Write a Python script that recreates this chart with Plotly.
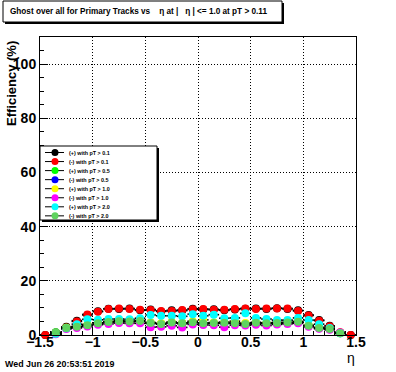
import plotly.graph_objects as go

# ---------------- data ----------------
eta_bins = [-1.45, -1.35, -1.25, -1.15, -1.05, -0.95, -0.85, -0.75, -0.65, -0.55,
            -0.45, -0.35, -0.25, -0.15, -0.05, 0.05, 0.15, 0.25, 0.35, 0.45,
            0.55, 0.65, 0.75, 0.85, 0.95, 1.05, 1.15, 1.25, 1.35, 1.45]
bin_half_width = 0.05

pos_pt01 = [0, 0.9, 3.0, 5.3, 7.4, 8.8, 9.7, 9.6, 9.8, 9.1, 9.4, 8.7, 9.1, 9.0, 9.7,
            9.4, 9.5, 9.1, 9.4, 9.7, 9.8, 9.6, 9.9, 9.6, 9.1, 7.4, 5.5, 3.4, 0.8, 0]
neg_pt01 = [0, 0.8, 2.8, 5.0, 7.6, 8.6, 9.6, 9.8, 9.6, 9.3, 9.2, 8.9, 8.9, 9.2, 9.5,
            9.6, 9.3, 9.3, 9.6, 9.8, 9.6, 9.8, 9.8, 9.8, 8.9, 7.2, 5.3, 3.2, 1.0, 0]
pos_pt05 = [None, 1.0, 2.7, 3.1, 3.5, 4.4, 4.9, 5.0, 5.1, 5.1, 4.5, 4.2, 4.5, 4.4, 4.6,
            4.4, 4.5, 4.4, 4.4, 4.2, 4.4, 4.4, 4.5, 4.5, 4.8, 3.5, 2.7, 2.3, 0.7, None]
neg_pt05 = [None, 0.8, 2.5, 3.0, 3.5, 4.2, 4.7, 4.9, 4.9, 5.0, 4.3, 4.0, 4.4, 4.2, 4.6,
            4.2, 4.3, 4.3, 4.2, 4.0, 4.3, 4.2, 4.3, 4.4, 4.7, 3.3, 2.5, 2.1, 0.6, None]
pos_pt10 = [None, 0.8, 2.7, 3.2, 3.9, 4.5, 5.0, 5.3, 5.1, 5.4, 4.6, 4.3, 4.8, 4.5, 5.1,
            5.6, 4.6, 4.8, 5.1, 4.4, 4.7, 4.5, 4.7, 5.3, 5.0, 3.6, 2.8, 2.3, 0.7, None]
neg_pt10 = [None, 0.3, 2.2, 2.6, 3.1, 3.8, 4.1, 4.4, 4.3, 4.3, 2.9, 3.0, 3.4, 2.8, 3.9,
            3.7, 3.6, 2.9, 3.6, 3.5, 3.8, 3.5, 3.9, 4.1, 4.3, 3.0, 2.3, 1.9, 0.9, None]
pos_pt20 = [None, 0.5, 2.5, 4.0, 5.8, 5.6, 5.9, 5.9, 5.8, 6.2, 7.4, 7.1, 7.1, 6.9, 7.7,
            7.1, 7.5, 6.2, 6.3, 8.0, 6.3, 5.9, 5.5, 5.5, 6.3, 5.5, 4.0, 2.6, 0.6, None]
neg_pt20 = [None, 0.9, 2.6, 3.0, 3.6, 4.3, 4.8, 5.1, 5.0, 5.2, 4.4, 4.1, 4.6, 4.3, 4.7,
            4.3, 4.4, 4.5, 4.3, 4.1, 4.5, 4.3, 4.4, 4.6, 4.9, 3.4, 2.6, 2.2, 0.6, None]

series_names = ["(+) with pT > 0.1", "(-) with pT > 0.1", "(+) with pT > 0.5",
                "(-) with pT > 0.5", "(+) with pT > 1.0", "(-) with pT > 1.0",
                "(+) with pT > 2.0", "(-) with pT > 2.0"]
series_values = [pos_pt01, neg_pt01, pos_pt05, neg_pt05,
                 pos_pt10, neg_pt10, pos_pt20, neg_pt20]
series_colors = ["#000000", "#ff0000", "#00ff00", "#0000ff",
                 "#ffff00", "#ff00ff", "#00ffff", "#5fd35f"]

x_ticks = [-1.5, -1, -0.5, 0, 0.5, 1, 1.5]
y_ticks = [0, 20, 40, 60, 80, 100]

# ---------------- layout geometry ----------------
W, H = 396, 372
L, R, T, B = 40, 356, 37, 335
FONT = "Liberation Sans"


def px(xp):
    return (xp - L) / (R - L)


def py(yp):
    return (B - yp) / (B - T)


fig = go.Figure()
for name, vals, col in zip(series_names, series_values, series_colors):
    fig.add_trace(go.Scatter(
        x=eta_bins, y=vals, mode="markers", name=name, showlegend=False,
        marker=dict(symbol="circle", size=8, color=col, line=dict(width=0)),
        error_x=dict(type="constant", value=bin_half_width, color="black",
                     thickness=1.6, width=0),
        cliponaxis=False,
    ))

axis_common = dict(
    showline=True, linecolor="black", linewidth=1, mirror=True,
    ticks="inside", tickcolor="black", ticklen=8, tickwidth=1,
    showgrid=True, gridcolor="black", griddash="1px,2px", gridwidth=1,
    zeroline=False,
    tickfont=dict(family=FONT, size=14, color="black", weight="bold"),
)

fig.update_xaxes(range=[-1.5, 1.5], tickvals=x_ticks, ticklabelstandoff=-6,
                 **axis_common,
                 minor=dict(ticks="inside", ticklen=4, dtick=0.1, tick0=-1.5,
                            tickcolor="black", showgrid=False))
fig.update_yaxes(range=[0, 110], tickvals=y_ticks, **axis_common,
                 minor=dict(ticks="inside", ticklen=4, dtick=5, tick0=0,
                            tickcolor="black", showgrid=False))

shapes = []
annotations = []

# title box with shadow
shapes.append(dict(type="rect", xref="paper", yref="paper",
                   x0=px(5), x1=px(284), y0=py(24), y1=py(3),
                   fillcolor="black", line=dict(width=0), layer="above"))
shapes.append(dict(type="rect", xref="paper", yref="paper",
                   x0=px(3), x1=px(282), y0=py(22), y1=py(1),
                   fillcolor="white", line=dict(color="black", width=1), layer="above"))
annotations.append(dict(xref="paper", yref="paper", x=px(138), y=py(11.5),
                        text="Ghost over all for Primary Tracks vs    \u03b7 at |   \u03b7 | <= 1.0 at pT > 0.11",
                        showarrow=False, xanchor="center", yanchor="middle",
                        font=dict(family=FONT, size=8.2, color="black", weight="bold")))

# legend box with shadow
leg_x0, leg_x1, leg_y0, leg_y1 = 40, 157, 146, 220
shapes.append(dict(type="rect", xref="paper", yref="paper",
                   x0=px(leg_x0 + 2), x1=px(leg_x1 + 2), y0=py(leg_y1 + 2), y1=py(leg_y0 + 2),
                   fillcolor="black", line=dict(width=0), layer="above"))
shapes.append(dict(type="rect", xref="paper", yref="paper",
                   x0=px(leg_x0), x1=px(leg_x1), y0=py(leg_y1), y1=py(leg_y0),
                   fillcolor="white", line=dict(color="black", width=1), layer="above"))
for i, (name, col) in enumerate(zip(series_names, series_colors)):
    yy = 152.5 + i * 9.05
    shapes.append(dict(type="line", xref="paper", yref="paper",
                       x0=px(45), x1=px(64), y0=py(yy), y1=py(yy),
                       line=dict(color="black", width=1), layer="above"))
    shapes.append(dict(type="circle", xref="paper", yref="paper",
                       xsizemode="pixel", ysizemode="pixel",
                       xanchor=px(55), yanchor=py(yy),
                       x0=-3.5, x1=3.5, y0=-3.5, y1=3.5,
                       fillcolor=col, line=dict(width=0), layer="above"))
    annotations.append(dict(xref="paper", yref="paper", x=px(67), y=py(yy),
                            text=name, showarrow=False, xanchor="left", yanchor="middle",
                            font=dict(family=FONT, size=5.4, color="black", weight="bold")))

# axis titles and date
annotations.append(dict(xref="paper", yref="paper", x=px(11), y=py(84),
                        text="Efficiency (%)", textangle=-90, showarrow=False,
                        xanchor="center", yanchor="middle",
                        font=dict(family=FONT, size=13, color="black", weight="bold")))
annotations.append(dict(xref="paper", yref="paper", x=px(351), y=py(358),
                        text="\u03b7", showarrow=False, xanchor="center", yanchor="middle",
                        font=dict(family=FONT, size=14, color="black")))
annotations.append(dict(xref="paper", yref="paper", x=px(3), y=py(364),
                        text="Wed Jun 26 20:53:51 2019", showarrow=False,
                        xanchor="left", yanchor="middle",
                        font=dict(family=FONT, size=8.9, color="black", weight="bold")))

fig.update_layout(
    width=W, height=H,
    margin=dict(l=L, r=W - R, t=T, b=H - B, pad=0),
    paper_bgcolor="white", plot_bgcolor="white",
    showlegend=False,
    shapes=shapes, annotations=annotations,
    font=dict(family=FONT, color="black"),
)

fig.write_html("out.html", config={"displayModeBar": False},
               post_script="document.body.style.margin='0px';")
